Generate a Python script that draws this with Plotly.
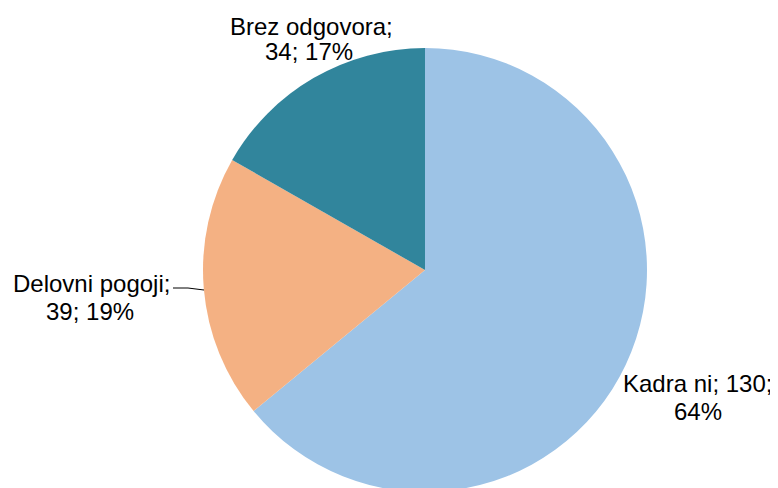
import plotly.graph_objects as go

categories = ["Kadra ni", "Delovni pogoji", "Brez odgovora"]
values = [130, 39, 34]
percents = ["64%", "19%", "17%"]
colors = ["#9DC3E6", "#F4B183", "#31859C"]

W, H = 778, 488
OFF = 8  # page body margin offset

# label lines (each label split in two lines as in reference)
label_lines = [
    [f"{categories[0]}; {values[0]};", f"{percents[0]}"],
    [f"{categories[1]};", f"{values[1]}; {percents[1]}"],
    [f"{categories[2]};", f"{values[2]}; {percents[2]}"],
]
# screen positions (center x, cap-center y for each line)
label_pos = [
    [(697.5, 383.5), (698, 411)],
    [(91.5, 283), (90, 311)],
    [(311.5, 26.5), (309, 51.5)],
]

def px(x):
    return (x - OFF) / W

def py(y):
    return 1 - (y - OFF) / H

cx, cy, r = 425, 270, 222
fcy = cy - OFF
fig = go.Figure(go.Pie(
    labels=categories,
    values=values,
    sort=False,
    direction="clockwise",
    rotation=0,
    marker=dict(colors=colors, line=dict(width=0)),
    textinfo="none",
    hoverinfo="label+value+percent",
    domain=dict(x=[px(cx) - 0.3, px(cx) + 0.3],
                y=[(H - fcy - r) / H, (H - fcy + r) / H]),
    showlegend=False,
))

for lines, poss in zip(label_lines, label_pos):
    for t, (sx, sy) in zip(lines, poss):
        fig.add_annotation(
            x=px(sx), y=py(sy), xref="paper", yref="paper",
            text=t, showarrow=False, xanchor="center", yanchor="middle",
            font=dict(family="Liberation Sans, Arial, sans-serif", size=24, color="#000000"),
        )

# leader line for Delovni pogoji
fig.add_shape(
    type="path", xref="paper", yref="paper",
    path=f"M {px(173)},{py(288)} L {px(188)},{py(288)} L {px(204)},{py(290)}",
    line=dict(color="#000000", width=1),
)

fig.update_layout(
    width=W, height=H,
    margin=dict(l=0, r=0, t=0, b=0),
    paper_bgcolor="#FFFFFF",
    plot_bgcolor="#FFFFFF",
)

fig.write_html("out.html")
